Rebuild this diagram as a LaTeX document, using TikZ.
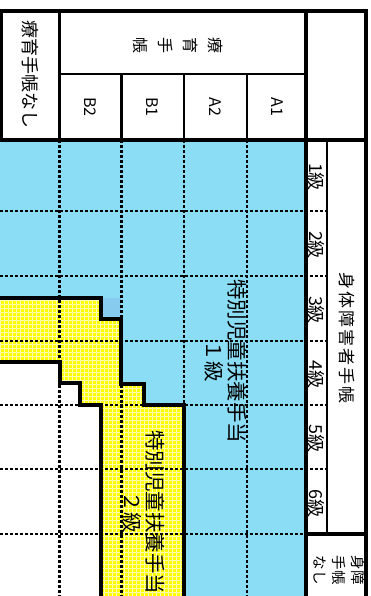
\documentclass[tikz,border=0pt]{standalone}
\usepackage{fontspec}
\setmainfont{Noto Sans CJK JP}
\newfontfamily\jpwide[LetterSpace=11]{Noto Sans CJK JP}
\definecolor{skyfill}{RGB}{138,221,245}
\definecolor{skydark}{RGB}{135,204,238}
\definecolor{yelfill}{RGB}{255,255,0}
\definecolor{yelgrid}{RGB}{255,255,175}

\begin{document}
\begin{tikzpicture}[x=1pt, y=-1pt,
    thick rule/.style={line width=4pt},
    thin rule/.style={line width=2.6pt},
    dash rule/.style={line width=2.2pt, dash pattern=on 3.3pt off 1.7pt},
    stair/.style={line width=4pt, line join=miter},
    vlabel/.style={rotate=-90, inner sep=0pt, align=center, font=\fontsize{18}{20}\selectfont},
    grade/.style={vlabel, font=\fontsize{18}{20}\selectfont},
    techo/.style={vlabel, font=\fontsize{16}{18}\selectfont},
    benefit/.style={vlabel, font=\fontsize{20.5}{23}\selectfont}
  ]
  \useasboundingbox (0,0) rectangle (371,596);

  % fills
  \fill[skyfill] (0,140) rectangle (306,600);
  \fill[skydark] (101,298) rectangle (121,319);
  \fill[yelfill] (0,298) -- (101,298) -- (101,319) -- (121,319) -- (121,384) -- (144,384)
    -- (144,405) -- (184,405) -- (184,600) -- (101,600) -- (101,405) -- (80,405)
    -- (80,383) -- (59.5,383) -- (59.5,362) -- (0,362) -- cycle;
  \begin{scope}
    \clip (0,298) -- (101,298) -- (101,319) -- (121,319) -- (121,384) -- (144,384)
      -- (144,405) -- (184,405) -- (184,600) -- (0,600) -- cycle;
    \foreach \i in {0,4,...,188} \fill[yelgrid] (\i,296) rectangle ++(0.8,304);
    \foreach \j in {296,300,...,600} \fill[yelgrid] (0,\j) rectangle ++(188,0.8);
  \end{scope}
  \fill[white] (0,362) -- (59.5,362) -- (59.5,383) -- (80,383) -- (80,405) -- (101,405)
    -- (101,600) -- (0,600) -- cycle;

  % dashed grid
  \foreach \x in {59.5,121.5,184,247}
    \draw[dash rule] (\x,140) -- (\x,600);
  \foreach \y in {211,276,341,405,469}
    \draw[dash rule] (0,\y) -- (327,\y);
  \draw[dash rule] (0,534) -- (306,534);

  % rules
  \draw[thick rule] (0,11) -- (367.5,11);
  \draw[thick rule] (0,140) -- (367.5,140);
  \draw[thick rule] (1,9) -- (1,140);
  \draw[thick rule] (306,9) -- (306,600);
  \draw[thick rule] (365.5,9) -- (365.5,600);
  \draw[thick rule] (306,534) -- (365.5,534);
  \draw[thin rule] (59.5,11) -- (59.5,140);
  \draw[thin rule] (59.5,74) -- (306,74);
  \foreach \x in {121.5,184,247}
    \draw[thin rule] (\x,74) -- (\x,140);
  \draw[thin rule] (327,140) -- (327,534);

  % stairs
  \draw[stair] (0,298) -- (101,298) -- (101,319) -- (121,319) -- (121,384) -- (144,384)
    -- (144,405) -- (184,405) -- (184,600);
  \draw[stair] (0,362) -- (59.5,362) -- (59.5,383) -- (80,383) -- (80,405) -- (101,405)
    -- (101,600);

  % labels
  \node[vlabel] (nonote) at (30,75) {療育手帳なし};
  \node[vlabel, font=\fontsize{16}{25}\selectfont] (ryoiku) at (178,46) {療\\育\\手\\帳};
  \node[techo] (b2) at (90,107) {B2};
  \node[techo] (b1) at (152,107) {B1};
  \node[techo] (a2) at (215,107) {A2};
  \node[techo] (a1) at (277,107) {A1};
  \foreach \g/\y in {1/177,2/245,3/310,4/374.5,5/438.5,6/503}
    \node[grade] (g\g) at (316.5,\y) {\g 級};
  \node[vlabel, font=\jpwide\fontsize{17}{18}\selectfont] (shintai) at (346.5,338) {身体障害者手帳};
  \node[vlabel, font=\fontsize{14.5}{19}\selectfont] (nonsh) at (339,570) {身障\\手帳\\なし};
  \node[benefit] (toku1) at (225.5,361) {特別児童扶養手当\\１級};
  \node[benefit] (toku2) at (143.5,512) {特別児童扶養手当\\２級};
\end{tikzpicture}
\end{document}
